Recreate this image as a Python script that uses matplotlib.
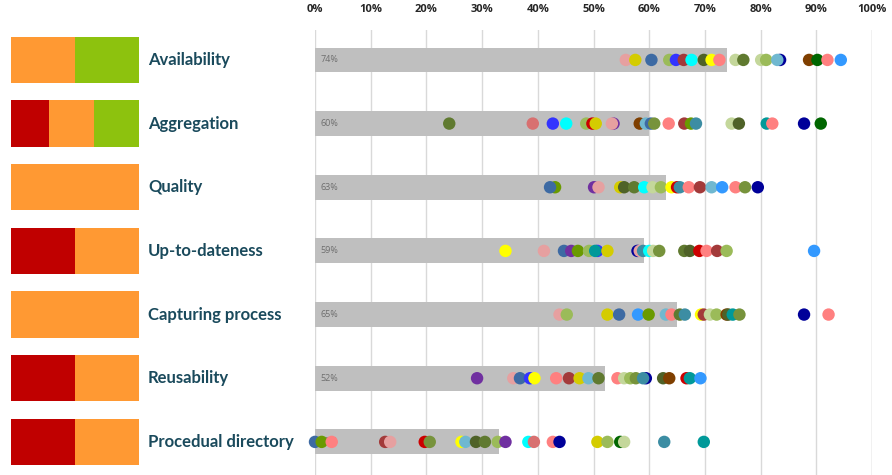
import matplotlib
matplotlib.use("Agg")
import matplotlib.pyplot as plt

# ---------------- data ----------------
categories = ["Availability", "Aggregation", "Quality", "Up-to-dateness",
              "Capturing process", "Reusability", "Procedual directory"]
bar_values = [74, 60, 63, 59, 65, 52, 33]

# left summary blocks: fractions of red / orange / green
red_share = [0.0, 0.30, 0.0, 0.5, 0.0, 0.5, 0.5]
orange_share = [0.5, 0.35, 1.0, 0.5, 1.0, 0.5, 0.5]
green_share = [0.5, 0.35, 0.0, 0.0, 0.0, 0.0, 0.0]

palette = {
    "pink": "#E6A0A0", "ylo": "#D4CC00", "steel": "#3D6AA3", "lolive": "#9BBB59",
    "blue": "#3333FF", "brick": "#A33A3A", "cyan": "#00FFFF", "dolive": "#4F6228",
    "yellow": "#FFFF00", "salmon": "#FF8080", "olive": "#607A30", "pale": "#C4D79B",
    "lblue": "#70B8D0", "navy": "#000099", "brown": "#7F3F00", "dgreen": "#006600",
    "sky": "#3399FF", "ogreen": "#77933C", "purple": "#7030A0", "teal": "#009999",
    "tealb": "#3C8DA3", "red": "#CC0000", "ygreen": "#6A9A00", "dsalmon": "#D87070",
}

dots_availability = [55.8, 57.5, 60.4, 63.6, 64.8, 66.2, 67.6, 69.8, 71.2, 72.6,
                     75.5, 76.9, 80.1, 81.0, 83.5, 83.0, 88.7, 90.2, 92.0, 94.4]
cols_availability = ["pink", "ylo", "steel", "lolive", "blue", "brick", "cyan", "dolive", "yellow", "salmon",
                     "pale", "olive", "pale", "lolive", "navy", "lblue", "brown", "dgreen", "salmon", "sky"]

dots_aggregation = [24.1, 39.1, 42.7, 45.1, 48.7, 49.8, 50.4, 53.6, 53.3, 58.3, 59.4, 60.3, 60.9,
                    63.5, 66.3, 67.5, 68.4, 74.8, 76.1, 81.1, 82.1, 87.8, 90.8]
cols_aggregation = ["olive", "dsalmon", "blue", "cyan", "lolive", "red", "ylo", "purple", "pink", "brown",
                    "lblue", "steel", "ogreen", "salmon", "brick", "ygreen", "tealb", "pale", "dolive",
                    "teal", "salmon", "navy", "dgreen"]

dots_quality = [43.1, 42.2, 50.1, 50.9, 54.8, 55.5, 57.3, 59.1, 60.6, 62.1, 64.0, 65.0, 65.5,
                67.1, 69.1, 71.2, 73.1, 75.5, 77.2, 79.5]
cols_quality = ["ygreen", "steel", "purple", "pink", "ylo", "dolive", "olive", "cyan", "pale", "lolive",
                "yellow", "red", "tealb", "salmon", "brick", "lblue", "sky", "salmon", "ogreen", "navy"]

dots_uptodate = [34.2, 41.1, 44.7, 46.0, 47.2, 49.2, 50.7, 50.3, 52.5, 57.9, 58.3, 58.9, 60.0,
                 60.7, 61.8, 66.3, 67.3, 69.0, 70.3, 72.2, 73.9, 89.6]
cols_uptodate = ["yellow", "pink", "steel", "purple", "ygreen", "lolive", "blue", "teal", "ylo", "navy",
                 "pink", "tealb", "cyan", "pale", "ogreen", "olive", "dolive", "red", "salmon", "brick",
                 "lolive", "sky"]

dots_capturing = [43.9, 45.2, 52.5, 54.6, 58.0, 59.9, 63.0, 64.0, 65.5, 66.4, 69.3, 69.8, 70.9,
                  72.1, 73.9, 74.2, 75.0, 76.2, 87.8, 92.2]
cols_capturing = ["pink", "lolive", "ylo", "steel", "sky", "ygreen", "lblue", "salmon", "olive", "tealb",
                  "yellow", "brick", "pale", "lolive", "brown", "dolive", "teal", "ogreen", "navy", "salmon"]

dots_reusability = [29.1, 35.6, 36.8, 38.6, 39.4, 43.3, 45.6, 47.5, 49.1, 50.9, 54.3, 55.5, 56.6,
                    57.6, 59.4, 58.9, 62.5, 63.6, 66.7, 67.3, 69.2]
cols_reusability = ["purple", "pink", "steel", "blue", "yellow", "salmon", "brick", "ylo", "lblue", "olive",
                    "salmon", "pale", "lolive", "ogreen", "navy", "tealb", "dolive", "brown", "red", "teal",
                    "sky"]

dots_procedual = [0.0, 1.2, 3.0, 12.6, 13.5, 19.7, 20.6, 26.3, 27.0, 28.9, 30.5, 32.8, 34.2, 38.3,
                  39.3, 42.7, 43.9, 50.7, 52.5, 54.8, 55.5, 62.7, 69.8]
cols_procedual = ["steel", "ygreen", "salmon", "brick", "pink", "red", "ogreen", "yellow", "lblue", "dolive",
                  "olive", "lolive", "purple", "cyan", "dsalmon", "salmon", "navy", "ylo", "lolive", "dgreen",
                  "pale", "tealb", "teal"]

dot_values = [dots_availability, dots_aggregation, dots_quality, dots_uptodate,
              dots_capturing, dots_reusability, dots_procedual]
dot_colors = [cols_availability, cols_aggregation, cols_quality, cols_uptodate,
              cols_capturing, cols_reusability, cols_procedual]

xticks = list(range(0, 101, 10))
xtick_labels = [f"{t}%" for t in xticks]

# ---------------- figure ----------------
W, H = 892, 475
fig = plt.figure(figsize=(W / 100, H / 100), dpi=100)

y_top, y_bot = 30, 475
ylim = (6.52, -0.47)
ax = fig.add_axes([315 / W, 1 - y_bot / H, 557 / W, (y_bot - y_top) / H])
ypos = list(range(len(categories)))

ax.set_xlim(0, 100)
ax.set_ylim(*ylim)
ax.set_xticks(xticks)
ax.set_xticklabels(xtick_labels, fontsize=8, fontweight="bold", color="#262626",
                   fontfamily="Open Sans")
ax.xaxis.tick_top()
ax.tick_params(axis="x", length=0, pad=11)
ax.set_yticks([])
for s in ax.spines.values():
    s.set_visible(False)
ax.set_axisbelow(True)
ax.grid(axis="x", color="#D9D9D9", linewidth=1.0)
ax.axvline(100, color="#D9D9D9", linewidth=1.0, zorder=0)

ax.barh(ypos, bar_values, height=0.39, color="#BFBFBF", zorder=1)
for y, v in zip(ypos, bar_values):
    ax.text(1.0, y, f"{v}%", fontsize=6.5, color="#6E6E6E", va="center", ha="left",
            fontfamily="Open Sans", zorder=2)

for y, vals, cols in zip(ypos, dot_values, dot_colors):
    for v, c in zip(vals, cols):
        ax.scatter([v], [y], s=80, color=palette[c], edgecolors="none", zorder=3, clip_on=False)

# left summary blocks
axl = fig.add_axes([11 / W, 1 - y_bot / H, 128 / W, (y_bot - y_top) / H])
axl.set_xlim(0, 1)
axl.set_ylim(*ylim)
axl.axis("off")
left = [0.0] * len(categories)
for share, col in [(red_share, "#C00000"), (orange_share, "#FF9933"), (green_share, "#8DC20E")]:
    axl.barh(ypos, share, left=left, height=0.73, color=col, edgecolor="none")
    left = [a + b for a, b in zip(left, share)]

# category labels
for y, name in zip(ypos, categories):
    fy = 1 - (y_top + (y - ylim[1]) / (ylim[0] - ylim[1]) * (y_bot - y_top)) / H
    fig.text(148 / W, fy, name, fontsize=12, fontweight="bold", color="#1A4A5C",
             va="center", ha="left", fontfamily="Lato")

fig.savefig("out.png", dpi=100)
